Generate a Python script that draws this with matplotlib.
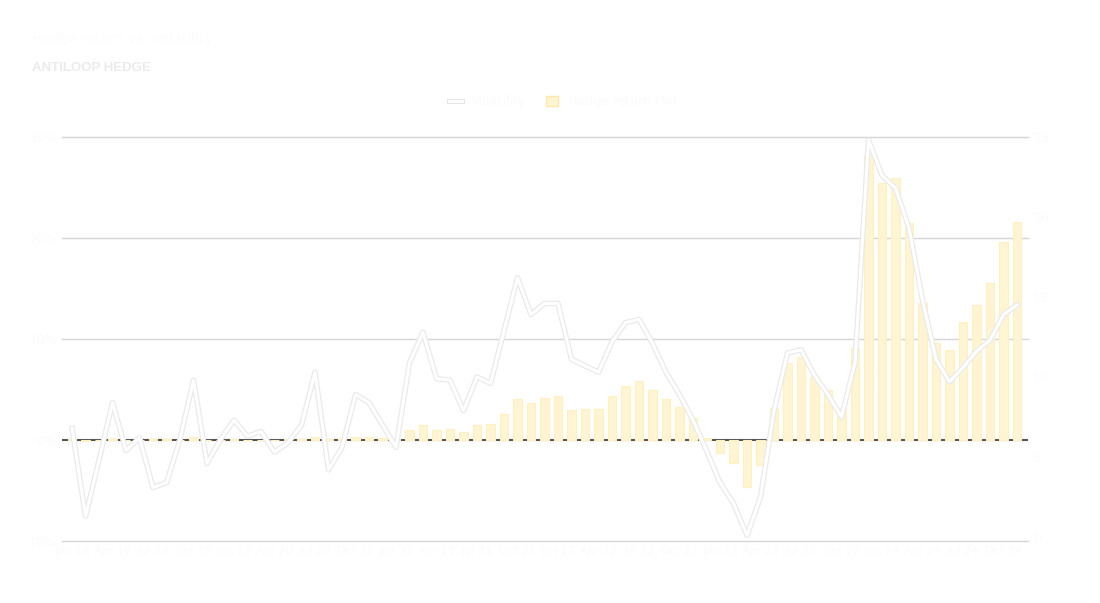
import matplotlib
matplotlib.use("Agg")
import matplotlib.pyplot as plt
import matplotlib.patheffects as pe
from matplotlib.lines import Line2D
from matplotlib.patches import Patch

# monthly points, Jan 2019 .. Nov 2024
months = ['Jan', 'Feb', 'Mar', 'Apr', 'May', 'Jun', 'Jul', 'Aug', 'Sep', 'Oct', 'Nov', 'Dec']
periods = [f"{months[i % 12]} {19 + i // 12}" for i in range(71)]

# cumulative hedge return (%), left axis
hedge_return = [
    0.1, -0.1, 0.05, 0.1, 0.05, 0.05, 0.1, 0.1, 0.05, 0.3,
    0.05, 0.05, 0.1, 0.05, 0.05, 0.05, 0.1, 0.1, 0.3, 0.1,
    0.2, 0.3, 0.3, 0.2, 0.1,
    1.0, 1.5, 1.0, 1.1, 0.8, 1.5, 1.6, 2.6, 4.1, 3.7,
    4.2, 4.4, 3.0, 3.1, 3.1, 4.4, 5.3, 5.8, 5.0, 4.1,
    3.3, 2.2, 0.2, -1.3, -2.3, -4.7, -2.5, 3.2, 7.6, 8.2,
    6.2, 5.0, 3.1, 9.1, 28.2, 25.4, 25.9, 21.5, 13.6, 9.6,
    8.9, 11.7, 13.4, 15.5, 19.6, 21.6,
]

# volatility index, right axis
vol_index = [
    6.8, 1.3, 4.8, 8.4, 5.4, 6.2, 3.1, 3.4, 6.1, 9.8,
    4.6, 6.1, 7.3, 6.3, 6.6, 5.3, 5.9, 7.0, 10.3, 4.2,
    5.6, 8.9, 8.4, 7.0, 5.6, 10.9, 12.8, 9.9, 9.8, 7.9,
    10.0, 9.6, 12.9, 16.2, 13.9, 14.6, 14.6, 11.1, 10.7, 10.3,
    12.2, 13.4, 13.6, 12.1, 10.3, 8.9, 7.3, 5.4, 3.4, 2.1,
    0.1, 2.5, 7.9, 11.5, 11.7, 10.1, 8.9, 7.5, 10.9, 24.8,
    22.6, 21.8, 19.3, 14.8, 11.1, 9.7, 10.6, 11.6, 12.3, 13.9,
    14.5,
]

left_ticks = [-10, 0, 10, 20, 30]
left_labels = ['-10%', '0%', '10%', '20%', '30%']
right_ticks = [0, 5, 10, 15, 20, 25]

faint = '#fbfbfb'
bar_face = '#fff5d3'
bar_edge = '#fff0c0'
line_edge = '#eaeaea'

fig = plt.figure(figsize=(11, 6.03), dpi=100)
ax = fig.add_axes([0.0564, 0.1028, 0.8781, 0.67])
x = list(range(len(periods)))

ax.set_xlim(-0.74, 70.81)
ax.set_ylim(-10, 30)
for t in left_ticks:
    if t != 0:
        ax.axhline(t, color='#d6d6d6', lw=1, zorder=0, clip_on=False)
ax.axhline(0, color='#555555', lw=1.5, zorder=1)

ax.bar(x, hedge_return, width=0.65, color=bar_face, edgecolor=bar_edge,
       linewidth=0.8, zorder=2)

ax.set_yticks(left_ticks)
ax.set_yticklabels(left_labels, color=faint, fontsize=9)
ax.set_xticks(x[::3])
ax.set_xticklabels(periods[::3], color=faint, fontsize=8)
ax.tick_params(length=0)
for s in ax.spines.values():
    s.set_visible(False)

ax2 = ax.twinx()
ax2.set_ylim(-0.25, 25)
ax2.set_xlim(-0.74, 70.81)
ax2.plot(x, vol_index, color='#ffffff', lw=2.2, zorder=3, clip_on=False,
         path_effects=[pe.Stroke(linewidth=4, foreground=line_edge), pe.Normal()])
ax2.set_yticks(right_ticks)
ax2.set_yticklabels([str(t) for t in right_ticks], color=faint, fontsize=9)
ax2.tick_params(length=0)
for s in ax2.spines.values():
    s.set_visible(False)

fig.text(0.029, 0.928, 'Hedge return vs. volatility', color='#fcfcfc', fontsize=10)
fig.text(0.029, 0.882, 'ANTILOOP HEDGE', color='#ebebeb', fontsize=9.5,
         fontweight='bold', family='Liberation Sans')

handles = [
    Line2D([0], [0], color='#ffffff', lw=2,
           path_effects=[pe.Stroke(linewidth=3.5, foreground='#e4e4e4'), pe.Normal()]),
    Patch(facecolor=bar_face, edgecolor='#ffe9a8'),
]
leg = fig.legend(handles, ['Volatility', 'Hedge return (%)'],
                 loc='center', bbox_to_anchor=(0.512, 0.831), ncol=2, frameon=False,
                 fontsize=9, handlelength=1.0, handleheight=0.9, columnspacing=1.6)
for t in leg.get_texts():
    t.set_color(faint)

fig.savefig('out.png', dpi=100, facecolor='white')
